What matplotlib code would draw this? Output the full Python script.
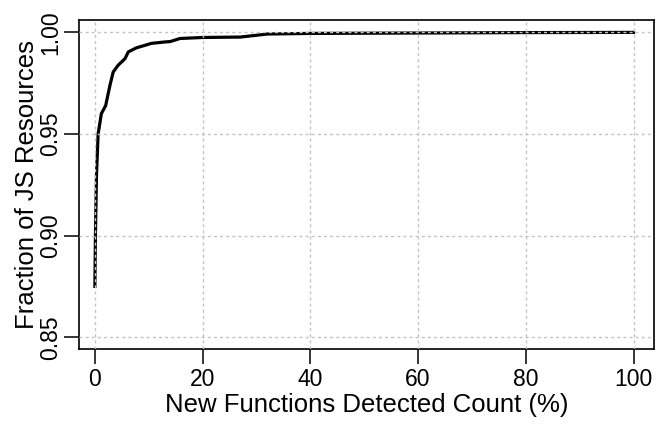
import numpy as np
import matplotlib
matplotlib.use("Agg")
import matplotlib.pyplot as plt

# CDF
newFunctionsPct = [0, 0.1, 0.3, 0.6, 1.2, 2.0, 2.8, 3.4, 4.3, 5.6, 6.2, 7.7,
                   10.5, 13.0, 14.0, 15.8, 20.0, 27.0, 32.0, 40.0, 60.0, 80.0, 100.0]
fractionJS = [0.875, 0.900, 0.930, 0.950, 0.960, 0.964, 0.974, 0.9805, 0.9838,
              0.9871, 0.9904, 0.9924, 0.9946, 0.9953, 0.9955, 0.9970, 0.9975,
              0.9977, 0.9992, 0.9995, 0.9997, 0.9999, 1.0]

xTicks = [0, 20, 40, 60, 80, 100]
yTicks = [0.85, 0.90, 0.95, 1.00]
yTickLabels = ['0.85', '0.90', '0.95', '1.00']

plt.rcParams['font.family'] = ['Liberation Sans', 'DejaVu Sans']

fig = plt.figure(figsize=(6.57, 4.25), dpi=100)
ax1 = fig.add_axes([79/657, 1-349/425, (654-79)/657, (349-20)/425])

ax1.plot(newFunctionsPct, fractionJS, color='black', linewidth=2.3,
         solid_joinstyle='round', zorder=2)

ax1.set_xlim(-2.95, 103.8)
ax1.set_ylim(0.8442, 1.0061)
ax1.set_xticks(xTicks)
ax1.set_yticks(yTicks)
ax1.set_yticklabels(yTickLabels, rotation=90, va='center')

ax1.tick_params(axis='both', direction='out', length=11, width=1.1,
                labelsize=16.5, pad=3)
ax1.tick_params(axis='y', pad=1)
for axis in ['top', 'bottom', 'left', 'right']:
    ax1.spines[axis].set_linewidth(1.2)

ax1.set_axisbelow(False)
ax1.grid(color='#c4c4c4', linestyle=(0, (2.2, 2.2)), linewidth=1.0)

ax1.set_xlabel('New Functions Detected Count (%)', fontsize=18.5, labelpad=1)
ax1.set_ylabel('Fraction of JS Resources', fontsize=18.5, labelpad=0)

fig.savefig('out.png', dpi=100)
